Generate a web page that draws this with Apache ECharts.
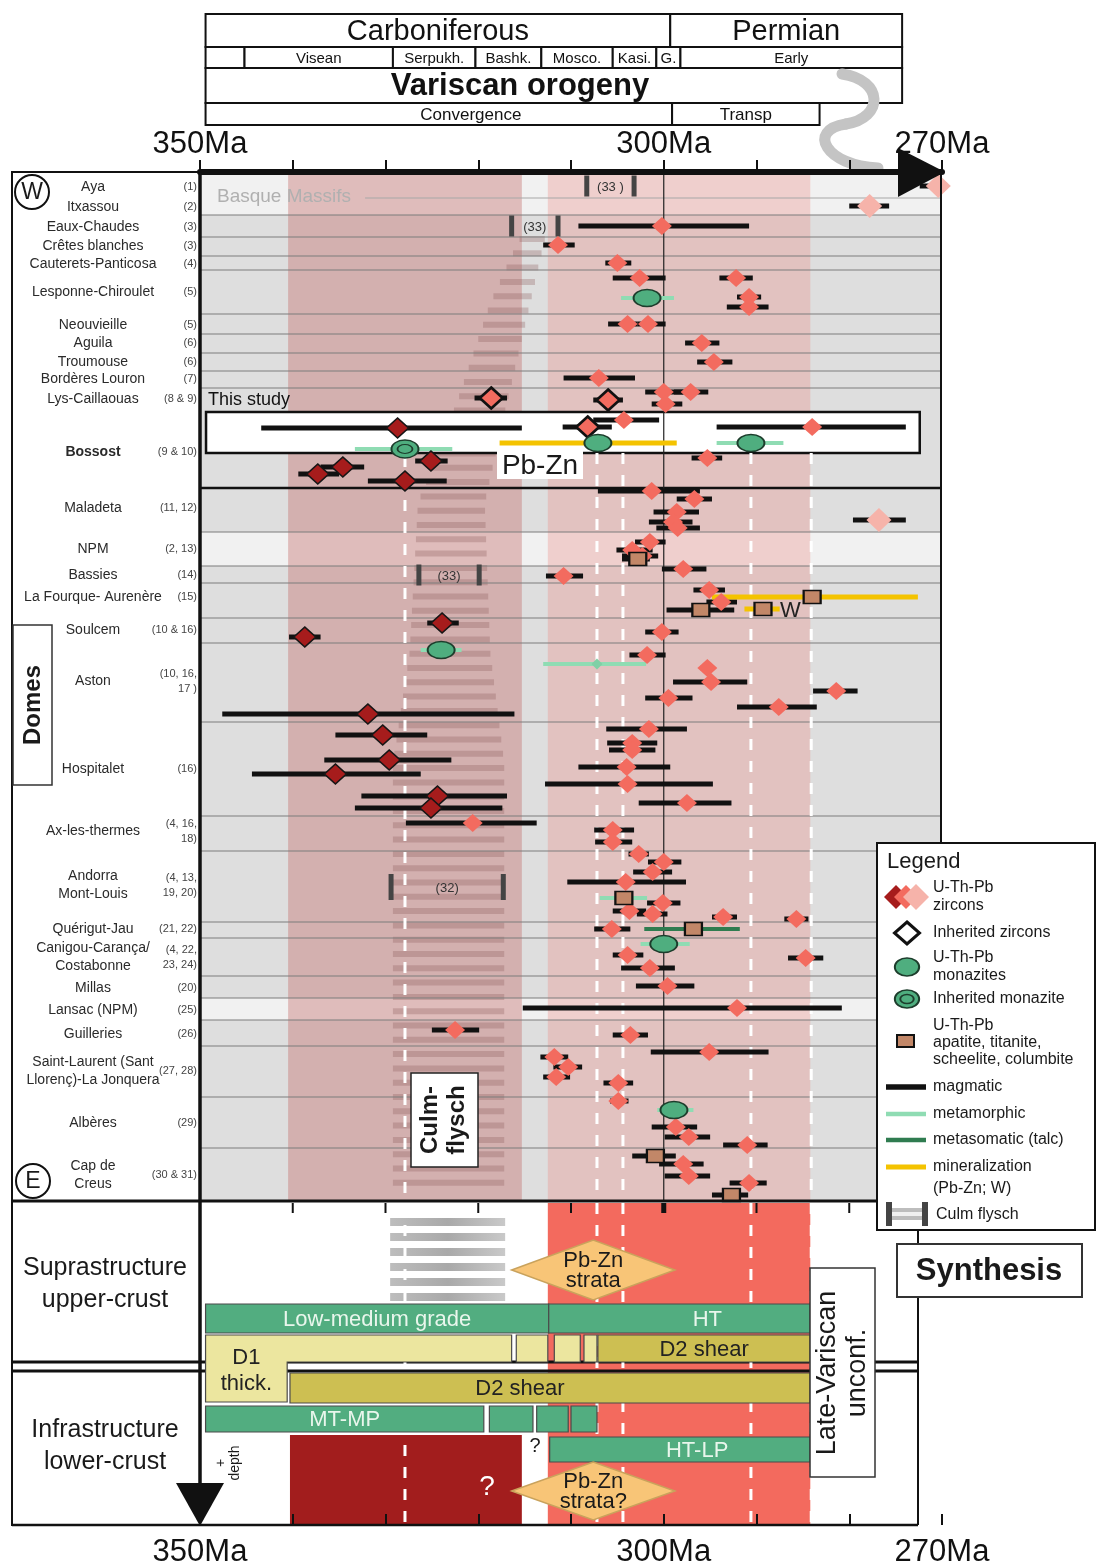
<!DOCTYPE html>
<html>
<head>
<meta charset="utf-8">
<title>Variscan geochronology synthesis</title>
<script src="https://cdn.jsdelivr.net/npm/echarts@6/dist/echarts.min.js"></script>
<style>
html,body{margin:0;padding:0;background:#ffffff;}
#chart{width:1097px;height:1568px;}
</style>
</head>
<body>
<div id="chart"></div>
<script>
// ======================= DATA =======================
const axisLabelAges = [350, 300, 270];

// geological time scale: [label, start Ma, end Ma, (label centre Ma)]
const periods = [['Carboniferous', 349.4, 299.3], ['Permian', 299.3, 274.3]];
const stages = [['', 349.4, 345.2], ['Visean', 345.2, 329.2], ['Serpukh.', 329.2, 320.3], ['Bashk.', 320.3, 313.2],
  ['Mosco.', 313.2, 305.5], ['Kasi.', 305.5, 300.8], ['G.', 300.8, 298.2], ['Early', 298.2, 274.3]];
const orogeny = [['Variscan orogeny', 349.4, 274.3, 315.5]];
const phases = [['Convergence', 349.4, 299.1, 320.8], ['Transp', 299.1, 283.2]];

// site name, references, lane (vertical track)
const sites = [
  ['Aya', '(1)', 187], ['Itxassou', '(2)', 207], ['Eaux-Chaudes', '(3)', 227], ['Crêtes blanches', '(3)', 246],
  ['Cauterets-Panticosa', '(4)', 264], ['Lesponne-Chiroulet', '(5)', 292], ['Neouvieille', '(5)', 325],
  ['Aguila', '(6)', 343], ['Troumouse', '(6)', 362], ['Bordères Louron', '(7)', 379], ['Lys-Caillaouas', '(8 & 9)', 399],
  ['Bossost', '(9 & 10)', 452], ['Maladeta', '(11, 12)', 508], ['NPM', '(2, 13)', 549], ['Bassies', '(14)', 575],
  ['La Fourque- Aurenère', '(15)', 597], ['Soulcem', '(10 & 16)', 630], ['Aston', '(10, 16,\n17 )', 681],
  ['Hospitalet', '(16)', 769], ['Ax-les-thermes', '(4, 16,\n18)', 831], ['Andorra\nMont-Louis', '(4, 13,\n19, 20)', 885],
  ['Quérigut-Jau', '(21, 22)', 929], ['Canigou-Carança/\nCostabonne', '(4, 22,\n23, 24)', 957], ['Millas', '(20)', 988],
  ['Lansac (NPM)', '(25)', 1010], ['Guilleries', '(26)', 1034],
  ['Saint-Laurent (Sant\nLlorenç)-La Jonquera', '(27, 28)', 1071], ['Albères', '(29)', 1123], ['Cap de\nCreus', '(30 & 31)', 1175]
];

const lightRows = [[172, 215], [532, 566], [998, 1020]];
const rowLines = [198, 215, 237, 256, 270, 314, 334, 353, 371, 388, 532, 566, 583, 618, 643, 722, 816, 851, 922, 938, 976, 998, 1020, 1046, 1097, 1148];
const groupLines = [488];
const highlightBox = [[349.35, 272.4, 412, 453]];

const periodBands = [[340.5, 315.3], [312.5, 284.2]];
const keyAges = [327.9, 307.2, 304.4, 290.6, 284.1];
const referenceAge = 300;

// Culm flysch outline: [lane, old edge Ma, young edge Ma]
const culmOutline = [[235, 315.5, 312.8], [300, 318.7, 314.4], [400, 322.3, 316.9], [500, 326.5, 319.3],
  [650, 327.4, 318.7], [760, 329.2, 317.2], [1196, 329.2, 317.2]];
const culmRefs = [['(33 )', 308.3, 303.2, 186], ['(33)', 316.4, 311.4, 226], ['(33)', 326.4, 319.9, 575], ['(32)', 329.4, 317.3, 887]];

// zircon ages: [age, older bound, younger bound, lane]
const zirconsDark = [
  [328.7, 343.4, 315.3, 428], [334.6, 337.0, 332.3, 467], [337.3, 339.4, 335.0, 474], [325.1, 326.8, 323.3, 461],
  [327.9, 331.9, 323.4, 481], [323.9, 325.5, 322.1, 623], [338.7, 340.4, 337.0, 637], [331.9, 347.6, 316.1, 714],
  [330.3, 335.4, 325.5, 735], [329.6, 336.6, 322.9, 760], [335.4, 344.4, 326.2, 774], [324.4, 332.6, 316.9, 796],
  [325.1, 333.3, 317.4, 808]
];
const zirconsMid = [
  [300.2, 309.2, 290.8, 226], [311.4, 313.0, 309.6, 245], [305.0, 306.3, 303.5, 263], [302.6, 305.5, 299.8, 278],
  [292.2, 294.0, 290.4, 278], [290.8, 292.1, 289.5, 297], [290.8, 293.2, 288.7, 307], [303.9, 306.0, 302.8, 324],
  [301.7, 302.8, 299.8, 324], [295.9, 297.7, 294.0, 343], [294.6, 296.4, 292.6, 362], [307.0, 310.8, 303.1, 378],
  [300.0, 302.0, 297.9, 392], [297.1, 298.9, 295.2, 392], [299.8, 301.3, 298.0, 404], [304.3, 307.6, 300.5, 420],
  [284.0, 294.3, 273.9, 427], [295.3, 297.0, 293.7, 458], [301.3, 307.1, 296.1, 491], [296.7, 298.6, 294.8, 499],
  [298.6, 301.1, 296.2, 512], [299.0, 301.6, 296.9, 522], [298.5, 300.8, 296.1, 528], [301.5, 303.1, 299.8, 542],
  [303.4, 305.1, 301.2, 550], [302.3, 304.5, 300.6, 556], [310.8, 312.7, 308.7, 576], [297.9, 300.2, 295.4, 569],
  [295.1, 296.8, 293.4, 590], [293.8, 295.4, 292.1, 602], [300.2, 302.0, 298.4, 632], [301.8, 303.7, 299.8, 655],
  [295.3, 296.0, 294.6, 668], [294.9, 299.0, 291.0, 682], [281.4, 283.9, 279.1, 691], [299.5, 302.0, 296.9, 698],
  [287.6, 292.1, 283.5, 707], [301.6, 306.2, 297.5, 729], [303.4, 306.1, 300.7, 743], [303.4, 305.9, 300.9, 750],
  [304.0, 309.2, 299.3, 767], [303.9, 312.8, 294.7, 784], [297.5, 302.7, 292.7, 803], [320.6, 327.8, 313.7, 823],
  [305.5, 307.5, 303.2, 830], [305.5, 307.4, 303.4, 842], [302.7, 303.8, 301.6, 854], [300.0, 301.7, 298.1, 862],
  [301.2, 303.3, 299.1, 872], [304.1, 310.4, 297.6, 882], [300.1, 301.8, 298.2, 903], [303.7, 305.5, 301.9, 911],
  [301.2, 302.9, 299.6, 914], [293.6, 294.8, 292.1, 917], [285.7, 287.0, 284.4, 919], [305.6, 307.5, 303.6, 929],
  [303.9, 305.5, 302.2, 955], [284.7, 286.6, 282.8, 958], [301.5, 304.6, 298.8, 968], [299.6, 303.0, 296.7, 986],
  [292.1, 315.2, 280.8, 1008], [322.5, 325.0, 319.9, 1030], [303.6, 305.5, 301.7, 1035], [295.1, 301.4, 288.7, 1052],
  [311.8, 313.3, 310.3, 1057], [310.3, 311.9, 308.8, 1067], [311.6, 313.0, 310.1, 1077], [304.9, 306.5, 303.3, 1083],
  [304.9, 305.8, 303.8, 1101], [298.7, 301.3, 296.4, 1127], [297.3, 299.9, 295.0, 1137], [291.0, 293.6, 288.8, 1145],
  [297.9, 300.5, 295.7, 1164], [297.3, 299.9, 295.0, 1176], [290.8, 292.9, 288.9, 1183]
];
const zirconsPale = [[270.4, 272.4, 270.0, 186], [277.8, 280.0, 275.7, 206], [276.8, 279.6, 273.9, 520]];
const inheritedZircons = [[318.6, 320.4, 316.9, 398], [306.0, 307.6, 304.4, 400], [308.2, 310.9, 305.6, 427]];

// [age, older bound, younger bound, lane, error-bar type]
const monazites = [
  [301.8, 304.6, 298.9, 298, 'metamorphic'], [307.1, 317.7, 298.6, 443, 'mineralization'],
  [290.6, 294.3, 287.1, 443, 'metamorphic'], [324.0, 326.2, 321.8, 650, 'metamorphic'],
  [300.0, 302.5, 297.2, 944, 'metamorphic'], [298.9, 300.7, 296.8, 1110, 'metamorphic']
];
const inheritedMonazites = [[327.9, 333.3, 322.8, 449, 'metamorphic']];
const accessoryMinerals = [
  [302.8, 304.5, 301.5, 559, 'magmatic'], [296.0, 299.7, 292.4, 610, 'magmatic'],
  [284.0, 294.8, 272.6, 597, 'mineralization'], [289.3, 291.3, 287.5, 609, 'mineralization'],
  [304.3, 306.9, 301.8, 898, 'metamorphic'], [296.8, 302.1, 291.8, 929, 'metasomatic'],
  [300.9, 303.4, 298.7, 1156, 'magmatic'], [292.7, 294.8, 290.9, 1195, 'magmatic']
];
const metamorphicOnly = [[307.2, 313.0, 301.9, 664]];

// Synthesis panel: [label, start Ma, end Ma, top lane, bottom lane, kind, (label centre Ma)]
const synthBars = [
  ['Low-medium grade', 349.4, 312.4, 1304, 1333, 'green'],
  ['HT', 312.4, 284.2, 1304, 1333, 'green', 295.3],
  ['', 315.9, 312.5, 1335, 1362, 'pale'],
  ['', 311.8, 309.0, 1335, 1362, 'pale'],
  ['', 308.6, 307.2, 1335, 1362, 'pale'],
  ['D2 shear', 307.1, 284.2, 1335, 1362, 'olive'],
  ['D2 shear', 340.3, 284.2, 1373, 1403, 'olive', 315.5],
  ['MT-MP', 349.4, 319.4, 1406, 1432, 'green'],
  ['', 318.8, 314.1, 1406, 1432, 'green'],
  ['', 313.7, 310.3, 1406, 1432, 'green'],
  ['', 310.0, 307.2, 1406, 1432, 'green'],
  ['HT-LP', 312.3, 284.2, 1437, 1462, 'green', 296.4]
];
const d1Outline = [[349.4, 1335], [316.4, 1335], [316.4, 1362], [340.6, 1362], [340.6, 1402], [349.4, 1402]];
const synthBands = [[312.5, 284.2, 1203, 1525, 0], [340.3, 315.3, 1435, 1525, 1]];
const synthCulm = [[329.5, 317.1, 1208, 1302]];
const pbZnStrata = [['Pb-Zn\nstrata', 316.4, 298.8, 1240, 1300], ['Pb-Zn\nstrata?', 316.4, 298.8, 1462, 1520]];
const synthTickAges = [340, 330, 320, 310, 300, 290, 280];

// ======================= STYLE / LAYOUT =======================
const FONT = "'Liberation Sans', Arial, Helvetica, sans-serif";
const BAR_STYLE = {
  magmatic: ['#111111', 5], metamorphic: ['#8fdcb3', 4], metasomatic: ['#2f7c50', 4], mineralization: ['#f4c300', 5]
};
const BAR_KEYS = Object.keys(BAR_STYLE);
const HEADER_ROWS = [
  {y0: 14, y1: 47, font: '29px ' + FONT},
  {y0: 47, y1: 68, font: '15px ' + FONT},
  {y0: 68, y1: 103, font: 'bold 31px ' + FONT},
  {y0: 103, y1: 125, font: '17px ' + FONT}
];
const MAIN = [172, 1201];
const SYNTH = [1203, 1525];
const SALMON = '#f36b5f', DARKRED = '#a61c1c', PALE = '#f6b3aa';
const GREEN = '#4fae7f', MONA_BORDER = '#1d3d2c';
const ELLIPSE = 'path://M0,10 A10,10 0 1,0 20,10 A10,10 0 1,0 0,10 Z';

// ======================= HELPERS =======================
function rectOf(api, ma0, y0, ma1, y1) {
  const a = api.coord([ma0, y0]), b = api.coord([ma1, y1]);
  return {x: Math.min(a[0], b[0]), y: Math.min(a[1], b[1]), width: Math.abs(b[0] - a[0]), height: Math.abs(b[1] - a[1])};
}
function culmAt(y) {
  for (let i = 0; i < culmOutline.length - 1; i++) {
    const a = culmOutline[i], b = culmOutline[i + 1];
    if (y >= a[0] && y <= b[0]) {
      const t = (y - a[0]) / (b[0] - a[0]);
      return [a[1] + t * (b[1] - a[1]), a[2] + t * (b[2] - a[2])];
    }
  }
  const l = culmOutline[culmOutline.length - 1];
  return [l[1], l[2]];
}
function pts(list) { return list.map(r => [r[0], r[3]]); }

const barData = [];
zirconsDark.concat(zirconsMid, zirconsPale, inheritedZircons).forEach(r => barData.push([r[1], r[2], r[3], 0]));
monazites.concat(inheritedMonazites, accessoryMinerals).forEach(r => barData.push([r[1], r[2], r[3], BAR_KEYS.indexOf(r[4])]));
metamorphicOnly.forEach(r => barData.push([r[1], r[2], r[3], 1]));

const headerData = [];
[periods, stages, orogeny, phases].forEach((arr, row) => arr.forEach(d => headerData.push({name: d[0], value: [d[1], d[2], row, d[3] !== undefined ? d[3] : (d[1] + d[2]) / 2]})));

const dashData = [];
keyAges.forEach(a => { dashData.push([a, a > 320 ? 456 : 453, MAIN[1]]); dashData.push([a, SYNTH[0], SYNTH[1]]); });

// ======================= SERIES =======================
const series = [];

series.push({type: 'custom', z: 1, silent: true, clip: false,
  data: [[MAIN[0], MAIN[1], 0]].concat(lightRows.map(r => [r[0], r[1], 1])),
  renderItem: (p, api) => ({type: 'rect', shape: rectOf(api, 350, api.value(0), 270, api.value(1)),
    style: {fill: api.value(2) ? '#f1f1f1' : '#dedede'}})
});
series.push({type: 'custom', z: 2, silent: true, clip: false,
  data: periodBands.map((b, i) => [b[0], b[1], i]),
  renderItem: (p, api) => ({type: 'rect', shape: rectOf(api, api.value(0), MAIN[0] + 2, api.value(1), MAIN[1]),
    style: {fill: api.value(2) ? 'rgba(236,128,124,0.30)' : 'rgba(190,95,92,0.36)'}})
});
series.push({type: 'custom', z: 2, silent: true, clip: false,
  data: synthBands,
  renderItem: (p, api) => ({type: 'rect', shape: rectOf(api, api.value(0), api.value(2), api.value(1), api.value(3)),
    style: {fill: api.value(4) ? '#a21d1d' : '#f36a5e'}})
});
series.push({type: 'custom', z: 3, silent: true, clip: false,
  data: [[0]],
  renderItem: (p, api) => {
    const kids = [];
    for (let y = 236; y <= 1192; y += 14.3) {
      const e = culmAt(y);
      kids.push({type: 'rect', shape: rectOf(api, e[0], y, e[1], y + 6), style: {fill: 'rgba(140,88,88,0.30)'}});
    }
    return {type: 'group', children: kids};
  }
});
series.push({type: 'custom', z: 3, silent: true, clip: false,
  data: synthCulm,
  renderItem: (p, api) => {
    const kids = [];
    for (let y = api.value(2) + 10; y <= api.value(3) - 4; y += 15) {
      const r = rectOf(api, api.value(0), y, api.value(1), y + 8);
      kids.push({type: 'rect', shape: r, style: {fill: {type: 'linear', x: 0, y: 0, x2: 1, y2: 0,
        colorStops: [{offset: 0, color: '#bdbdbd'}, {offset: 0.5, color: '#a9a9a9'}, {offset: 1, color: '#c9c9c9'}]}}});
    }
    return {type: 'group', children: kids};
  }
});
series.push({type: 'custom', z: 4, silent: true, clip: false,
  data: rowLines.map(y => [y, 0]).concat(groupLines.map(y => [y, 1])),
  renderItem: (p, api) => {
    const y = api.value(0), thick = api.value(1);
    const a = api.coord([y === 198 ? 332.2 : 350, y]), b = api.coord([270, y]);
    return {type: 'line', shape: {x1: a[0], y1: a[1], x2: b[0], y2: b[1]},
      style: {stroke: thick ? '#111' : (y === 198 ? '#a8a8a8' : '#7d7d7d'), lineWidth: thick ? 2.5 : 1.2}};
  }
});
series.push({type: 'custom', z: 5, silent: true, clip: false,
  data: highlightBox,
  renderItem: (p, api) => ({type: 'rect', shape: rectOf(api, api.value(0), api.value(2), api.value(1), api.value(3)),
    style: {fill: '#ffffff', stroke: '#111', lineWidth: 2.5}})
});
series.push({type: 'custom', z: 6, silent: true, clip: false,
  data: dashData,
  renderItem: (p, api) => {
    const a = api.coord([api.value(0), api.value(1)]), b = api.coord([api.value(0), api.value(2)]);
    return {type: 'line', shape: {x1: a[0], y1: a[1], x2: b[0], y2: b[1]},
      style: {stroke: '#ffffff', lineWidth: 3, lineDash: [11, 11]}};
  }
});
series.push({type: 'custom', z: 6, silent: true, clip: false,
  data: [[referenceAge, MAIN[0], MAIN[1]]],
  renderItem: (p, api) => {
    const a = api.coord([api.value(0), api.value(1)]), b = api.coord([api.value(0), api.value(2)]);
    return {type: 'line', shape: {x1: a[0], y1: a[1], x2: b[0], y2: b[1]}, style: {stroke: '#222', lineWidth: 1.2}};
  }
});
series.push({type: 'custom', z: 9, silent: true, clip: false,
  data: synthTickAges.map(a => [a]),
  renderItem: (p, api) => {
    const a = api.coord([api.value(0), SYNTH[0]]);
    return {type: 'line', shape: {x1: a[0], y1: a[1], x2: a[0], y2: a[1] + 10},
      style: {stroke: '#111', lineWidth: api.value(0) === 300 ? 5 : 2}};
  }
});
series.push({type: 'custom', z: 7, silent: true, clip: false,
  data: synthBars.map(b => ({name: b[0], value: [b[1], b[2], b[3], b[4], ['green', 'pale', 'olive'].indexOf(b[5]), b[6] !== undefined ? b[6] : (b[1] + b[2]) / 2]})),
  renderItem: (p, api) => {
    const k = api.value(4);
    const r = rectOf(api, api.value(0), api.value(2), api.value(1), api.value(3));
    const c = api.coord([api.value(5), (api.value(2) + api.value(3)) / 2]);
    const name = synthBars[p.dataIndex][0];
    return {type: 'group', children: [
      {type: 'rect', shape: r, style: {fill: ['#52ad80', '#ece69f', '#cdbf52'][k], stroke: '#4a4a4a', lineWidth: 1.2}},
      {type: 'text', x: c[0], y: c[1] + 1, style: {text: name, font: '22px ' + FONT, fill: k === 0 ? '#e9f6ec' : '#222',
        align: 'center', verticalAlign: 'middle'}}
    ]};
  }
});
series.push({type: 'custom', z: 7, silent: true, clip: false,
  data: [[0]],
  renderItem: (p, api) => {
    const pp = d1Outline.map(q => api.coord(q));
    const c = api.coord([(d1Outline[0][0] + d1Outline[3][0]) / 2, (d1Outline[0][1] + d1Outline[4][1]) / 2]);
    return {type: 'group', children: [
      {type: 'polygon', shape: {points: pp}, style: {fill: '#ece69f', stroke: '#4a4a4a', lineWidth: 1.2}},
      {type: 'text', x: c[0], y: c[1] + 2, style: {text: 'D1\nthick.', font: '22px ' + FONT, fill: '#222', lineHeight: 26,
        align: 'center', verticalAlign: 'middle'}}
    ]};
  }
});
series.push({type: 'custom', z: 8, silent: true, clip: false,
  data: pbZnStrata.map(d => ({name: d[0], value: [d[1], d[2], d[3], d[4]]})),
  renderItem: (p, api) => {
    const m0 = api.value(0), m1 = api.value(1), y0 = api.value(2), y1 = api.value(3);
    const mm = (m0 + m1) / 2, ym = (y0 + y1) / 2;
    const pp = [api.coord([m0, ym]), api.coord([mm, y0]), api.coord([m1, ym]), api.coord([mm, y1])];
    const c = api.coord([mm, ym]);
    return {type: 'group', children: [
      {type: 'polygon', shape: {points: pp}, style: {fill: '#f8c577', stroke: '#c9a25c', lineWidth: 1.5}},
      {type: 'text', x: c[0], y: c[1] + 1, style: {text: pbZnStrata[p.dataIndex][0], font: '22px ' + FONT, fill: '#1a1a1a',
        lineHeight: 20, align: 'center', verticalAlign: 'middle'}}
    ]};
  }
});
series.push({type: 'custom', z: 10, silent: true, clip: false,
  data: barData,
  renderItem: (p, api) => {
    const a = api.coord([api.value(0), api.value(2)]), b = api.coord([api.value(1), api.value(2)]);
    const s = BAR_STYLE[BAR_KEYS[api.value(3)]];
    return {type: 'line', shape: {x1: a[0], y1: a[1], x2: b[0], y2: b[1]}, style: {stroke: s[0], lineWidth: s[1]}};
  }
});
series.push({type: 'scatter', name: 'U-Th-Pb zircons (pale)', z: 11, silent: true, data: pts(zirconsPale),
  symbol: 'diamond', symbolSize: [25, 24], itemStyle: {color: PALE, opacity: 1}});
series.push({type: 'scatter', name: 'U-Th-Pb zircons', z: 11, silent: true, data: pts(zirconsMid),
  symbol: 'diamond', symbolSize: [20, 18], itemStyle: {color: SALMON, opacity: 1}});
series.push({type: 'scatter', name: 'U-Th-Pb zircons (dark)', z: 11, silent: true, data: pts(zirconsDark),
  symbol: 'diamond', symbolSize: [22, 20], itemStyle: {color: DARKRED, borderColor: '#161616', borderWidth: 1.6, opacity: 1}});
series.push({type: 'scatter', name: 'Inherited zircons', z: 11, silent: true, data: pts(inheritedZircons),
  symbol: 'diamond', symbolSize: [23, 21], itemStyle: {color: SALMON, borderColor: '#111', borderWidth: 2.6, opacity: 1}});
series.push({type: 'scatter', name: 'U-Th-Pb monazites', z: 11, silent: true, data: pts(monazites),
  symbol: ELLIPSE, symbolSize: [27, 17], itemStyle: {color: GREEN, borderColor: MONA_BORDER, borderWidth: 1.6, opacity: 1}});
series.push({type: 'scatter', name: 'Inherited monazite', z: 11, silent: true, data: pts(inheritedMonazites),
  symbol: ELLIPSE, symbolSize: [27, 18], itemStyle: {color: GREEN, borderColor: MONA_BORDER, borderWidth: 1.6, opacity: 1}});
series.push({type: 'scatter', name: 'Inherited monazite core', z: 12, silent: true, data: pts(inheritedMonazites),
  symbol: ELLIPSE, symbolSize: [15, 9], itemStyle: {color: GREEN, borderColor: MONA_BORDER, borderWidth: 1.4, opacity: 1}});
series.push({type: 'scatter', name: 'U-Th-Pb apatite, titanite, scheelite, columbite', z: 11, silent: true, data: pts(accessoryMinerals),
  symbol: 'rect', symbolSize: [17, 13], itemStyle: {color: '#c28768', borderColor: '#111', borderWidth: 2, opacity: 1}});
series.push({type: 'scatter', name: 'metamorphic', z: 11, silent: true, data: pts(metamorphicOnly),
  symbol: 'diamond', symbolSize: [11, 11], itemStyle: {color: '#7fd0a6', opacity: 1}});
series.push({type: 'custom', z: 11, silent: true, clip: false,
  data: culmRefs.map(c => ({name: c[0], value: [c[1], c[2], c[3]]})),
  renderItem: (p, api) => {
    const a = api.coord([api.value(0), api.value(2)]), b = api.coord([api.value(1), api.value(2)]);
    const h = culmRefs[p.dataIndex][0] === '(32)' ? 26 : 21;
    return {type: 'group', children: [
      {type: 'rect', shape: {x: a[0] - 2.5, y: a[1] - h / 2, width: 5, height: h}, style: {fill: '#444'}},
      {type: 'rect', shape: {x: b[0] - 2.5, y: b[1] - h / 2, width: 5, height: h}, style: {fill: '#444'}},
      {type: 'text', x: (a[0] + b[0]) / 2, y: a[1] + 1, style: {text: culmRefs[p.dataIndex][0], font: '13px ' + FONT,
        fill: '#333', align: 'center', verticalAlign: 'middle'}}
    ]};
  }
});
series.push({type: 'custom', z: 11, silent: true, clip: false,
  data: sites.map(s => ({name: s[0], value: [350, s[2]]})),
  renderItem: (p, api) => {
    const s = sites[p.dataIndex];
    const c = api.coord([api.value(0), api.value(1)]);
    const bold = s[0] === 'Bossost';
    return {type: 'group', children: [
      {type: 'text', x: c[0] - 107, y: c[1], style: {text: s[0], font: (bold ? 'bold ' : '') + '14px ' + FONT, fill: '#2a2a2a',
        lineHeight: 18, align: 'center', verticalAlign: 'middle'}},
      {type: 'text', x: c[0] - 3, y: c[1], style: {text: s[1], font: '11px ' + FONT, fill: '#444', lineHeight: 15,
        align: 'right', verticalAlign: 'middle'}}
    ]};
  }
});
series.push({type: 'custom', z: 11, silent: true, clip: false,
  data: headerData,
  renderItem: (p, api) => {
    const row = HEADER_ROWS[api.value(2)];
    const r = rectOf(api, api.value(0), row.y0, api.value(1), row.y1);
    const c = api.coord([api.value(3), (row.y0 + row.y1) / 2]);
    return {type: 'group', children: [
      {type: 'rect', shape: r, style: {fill: '#fff', stroke: '#111', lineWidth: 2}},
      {type: 'text', x: c[0], y: c[1] + 1, style: {text: headerData[p.dataIndex].name, font: row.font, fill: '#111',
        align: 'center', verticalAlign: 'middle'}}
    ]};
  }
});

// ======================= GRAPHIC (frames, annotations, legend) =======================
const G = [];
function T(x, y, text, font, extra) {
  G.push(Object.assign({type: 'text', x: x, y: y, z: 60,
    style: Object.assign({text: text, font: font, fill: '#1a1a1a', align: 'left', verticalAlign: 'middle'}, (extra && extra.style) || {})},
    extra && extra.props ? extra.props : {}));
}
function dia(cx, cy, w, h) { return [[cx, cy - h / 2], [cx + w / 2, cy], [cx, cy + h / 2], [cx - w / 2, cy]]; }
function line(x1, y1, x2, y2, lw, color, z) {
  G.push({type: 'line', z: z || 50, shape: {x1: x1, y1: y1, x2: x2, y2: y2}, style: {stroke: color || '#111', lineWidth: lw}});
}

// header squiggle
G.push({type: 'bezierCurve', z: 20, shape: {x1: 842, y1: 74, cpx1: 884, cpy1: 80, cpx2: 884, cpy2: 118, x2: 846, y2: 124},
  style: {stroke: '#c4c4c4', lineWidth: 11, fill: null, lineCap: 'round'}});
G.push({type: 'bezierCurve', z: 20, shape: {x1: 846, y1: 124, cpx1: 806, cpy1: 130, cpx2: 826, cpy2: 166, x2: 878, y2: 168},
  style: {stroke: '#c4c4c4', lineWidth: 11, fill: null, lineCap: 'round'}});
G.push({type: 'polygon', z: 50, shape: {points: [[898, 148], [945, 172], [898, 197]]}, style: {fill: '#111'}});

// frames
G.push({type: 'rect', z: 50, shape: {x: 12, y: 172, width: 188, height: 1029}, style: {fill: null, stroke: '#111', lineWidth: 2}});
G.push({type: 'rect', z: 50, shape: {x: 12, y: 1201, width: 188, height: 324}, style: {fill: null, stroke: '#111', lineWidth: 2}});
line(941, 172, 941, 843, 2);
line(12, 1201, 877, 1201, 3);
line(12, 1525, 918, 1525, 2.5);
line(918, 1230, 918, 1525, 2);
line(12, 1362, 918, 1362, 3, '#111', 5);
line(12, 1371, 918, 1371, 3, '#111', 5);
line(200, 172, 200, 1490, 3.5);
G.push({type: 'polygon', z: 50, shape: {points: [[176, 1483], [224, 1483], [200, 1526]]}, style: {fill: '#111'}});
T(228, 1463, '+\ndepth', '14px ' + FONT, {style: {align: 'center', lineHeight: 14}, props: {rotation: Math.PI / 2}});

G.push({type: 'circle', z: 50, shape: {cx: 32, cy: 192, r: 17}, style: {fill: '#fff', stroke: '#111', lineWidth: 2}});
T(32, 193, 'W', '23px ' + FONT, {style: {align: 'center'}});
G.push({type: 'circle', z: 50, shape: {cx: 33, cy: 1181, r: 17}, style: {fill: '#fff', stroke: '#111', lineWidth: 2}});
T(33, 1182, 'E', '23px ' + FONT, {style: {align: 'center'}});
G.push({type: 'rect', z: 50, shape: {x: 13, y: 625, width: 39, height: 160}, style: {fill: '#fff', stroke: '#333', lineWidth: 1.5}});
T(33, 705, 'Domes', 'bold 24px ' + FONT, {style: {align: 'center'}, props: {rotation: Math.PI / 2}});

T(217, 197, 'Basque Massifs', '19px ' + FONT, {style: {fill: '#b0b0b0'}});
T(208, 400, 'This study', '18px ' + FONT, {style: {fill: '#111'}});
G.push({type: 'rect', z: 55, shape: {x: 497, y: 451, width: 86, height: 28}, style: {fill: '#fff'}});
T(540, 466, 'Pb-Zn', '28px ' + FONT, {style: {align: 'center'}});
T(780, 611, 'W', '22px ' + FONT, {style: {fill: '#222'}});
G.push({type: 'rect', z: 55, shape: {x: 411, y: 1073, width: 67, height: 94}, style: {fill: '#fff', stroke: '#222', lineWidth: 1.5}});
T(444, 1120, 'Culm-\nflysch', 'bold 24px ' + FONT, {style: {align: 'center', lineHeight: 27}, props: {rotation: Math.PI / 2}});

T(105, 1284, 'Suprastructure\nupper-crust', '25px ' + FONT, {style: {align: 'center', lineHeight: 32}});
T(105, 1446, 'Infrastructure\nlower-crust', '25px ' + FONT, {style: {align: 'center', lineHeight: 32}});
T(487, 1487, '?', '28px ' + FONT, {style: {align: 'center', fill: '#ffffff'}});
T(535, 1446, '?', '20px ' + FONT, {style: {align: 'center'}});
G.push({type: 'rect', z: 55, shape: {x: 810, y: 1268, width: 65, height: 209}, style: {fill: '#fff', stroke: '#333', lineWidth: 1.5}});
T(843, 1373, 'Late-Variscan\nunconf.', '27px ' + FONT, {style: {align: 'center', lineHeight: 30}, props: {rotation: Math.PI / 2}});
G.push({type: 'rect', z: 55, shape: {x: 897, y: 1244, width: 185, height: 53}, style: {fill: '#fff', stroke: '#333', lineWidth: 2}});
T(989, 1271, 'Synthesis', 'bold 31px ' + FONT, {style: {align: 'center'}});

// legend
G.push({type: 'rect', z: 58, shape: {x: 877, y: 843, width: 218, height: 387}, style: {fill: '#fff', stroke: '#111', lineWidth: 2}});
T(887, 862, 'Legend', '22px ' + FONT);
G.push({type: 'polygon', z: 60, shape: {points: dia(896, 897, 24, 24)}, style: {fill: DARKRED}});
G.push({type: 'polygon', z: 60, shape: {points: dia(906, 897, 24, 24)}, style: {fill: SALMON}});
G.push({type: 'polygon', z: 60, shape: {points: dia(916, 897, 26, 26)}, style: {fill: PALE}});
T(933, 897, 'U-Th-Pb\nzircons', '16px ' + FONT, {style: {lineHeight: 18}});
G.push({type: 'polygon', z: 60, shape: {points: dia(907, 933, 25, 22)}, style: {fill: '#fff', stroke: '#111', lineWidth: 3}});
T(933, 933, 'Inherited zircons', '16px ' + FONT);
G.push({type: 'circle', z: 60, x: 907, y: 967, scaleX: 1.35, shape: {cx: 0, cy: 0, r: 9}, style: {fill: GREEN, stroke: MONA_BORDER, lineWidth: 1.5}});
T(933, 967, 'U-Th-Pb\nmonazites', '16px ' + FONT, {style: {lineHeight: 18}});
G.push({type: 'circle', z: 60, x: 907, y: 999, scaleX: 1.35, shape: {cx: 0, cy: 0, r: 9}, style: {fill: GREEN, stroke: MONA_BORDER, lineWidth: 1.5}});
G.push({type: 'circle', z: 61, x: 907, y: 999, scaleX: 1.5, shape: {cx: 0, cy: 0, r: 4.5}, style: {fill: GREEN, stroke: MONA_BORDER, lineWidth: 1.3}});
T(933, 999, 'Inherited monazite', '16px ' + FONT);
G.push({type: 'rect', z: 60, shape: {x: 897, y: 1035, width: 17, height: 12}, style: {fill: '#c28768', stroke: '#111', lineWidth: 2}});
T(933, 1043, 'U-Th-Pb\napatite, titanite,\nscheelite, columbite', '16px ' + FONT, {style: {lineHeight: 17}});
[['magmatic', 1087, 'magmatic'], ['metamorphic', 1114, 'metamorphic'], ['metasomatic (talc)', 1140, 'metasomatic']].forEach(l => {
  line(886, l[1], 926, l[1], BAR_STYLE[l[2]][1] + 0.5, BAR_STYLE[l[2]][0], 60);
  T(933, l[1], l[0], '16px ' + FONT);
});
line(886, 1167, 926, 1167, 5, BAR_STYLE.mineralization[0], 60);
T(933, 1178, 'mineralization\n(Pb-Zn; W)', '16px ' + FONT, {style: {lineHeight: 22}});
G.push({type: 'rect', z: 60, shape: {x: 890, y: 1208, width: 34, height: 12}, style: {fill: '#bdbdbd'}});
G.push({type: 'rect', z: 61, shape: {x: 890, y: 1212, width: 34, height: 4}, style: {fill: '#f0f0f0'}});
G.push({type: 'rect', z: 62, shape: {x: 886, y: 1202, width: 6, height: 24}, style: {fill: '#444'}});
G.push({type: 'rect', z: 62, shape: {x: 922, y: 1202, width: 6, height: 24}, style: {fill: '#444'}});
T(936, 1215, 'Culm flysch', '16px ' + FONT);

// ======================= OPTION =======================
const option = {
  animation: false,
  backgroundColor: '#ffffff',
  grid: {left: 200, right: 155, top: 0, bottom: 0, containLabel: false},
  xAxis: [
    {type: 'value', min: 270, max: 350, interval: 10, inverse: true, position: 'top', offset: -172, z: 40,
      axisLine: {show: true, lineStyle: {color: '#111', width: 6}},
      axisTick: {show: true, length: 12, lineStyle: {color: '#111', width: 2}},
      axisLabel: {show: true, margin: 12, fontSize: 31, fontFamily: FONT, color: '#111',
        formatter: v => axisLabelAges.indexOf(v) >= 0 ? v + 'Ma' : ''},
      splitLine: {show: false}},
    {type: 'value', min: 270, max: 350, interval: 10, inverse: true, position: 'bottom', offset: -43, z: 40,
      axisLine: {show: false},
      axisTick: {show: true, inside: true, length: 11, lineStyle: {color: '#111', width: 2}},
      axisLabel: {show: true, margin: 12, fontSize: 31, fontFamily: FONT, color: '#111',
        formatter: v => axisLabelAges.indexOf(v) >= 0 ? v + 'Ma' : ''},
      splitLine: {show: false}}
  ],
  yAxis: {type: 'value', min: 0, max: 1568, inverse: true, show: false},
  series: series,
  graphic: {elements: G}
};

const chart = echarts.init(document.getElementById('chart'), null, {renderer: 'canvas', width: 1097, height: 1568});
chart.setOption(option);
</script>
</body>
</html>
